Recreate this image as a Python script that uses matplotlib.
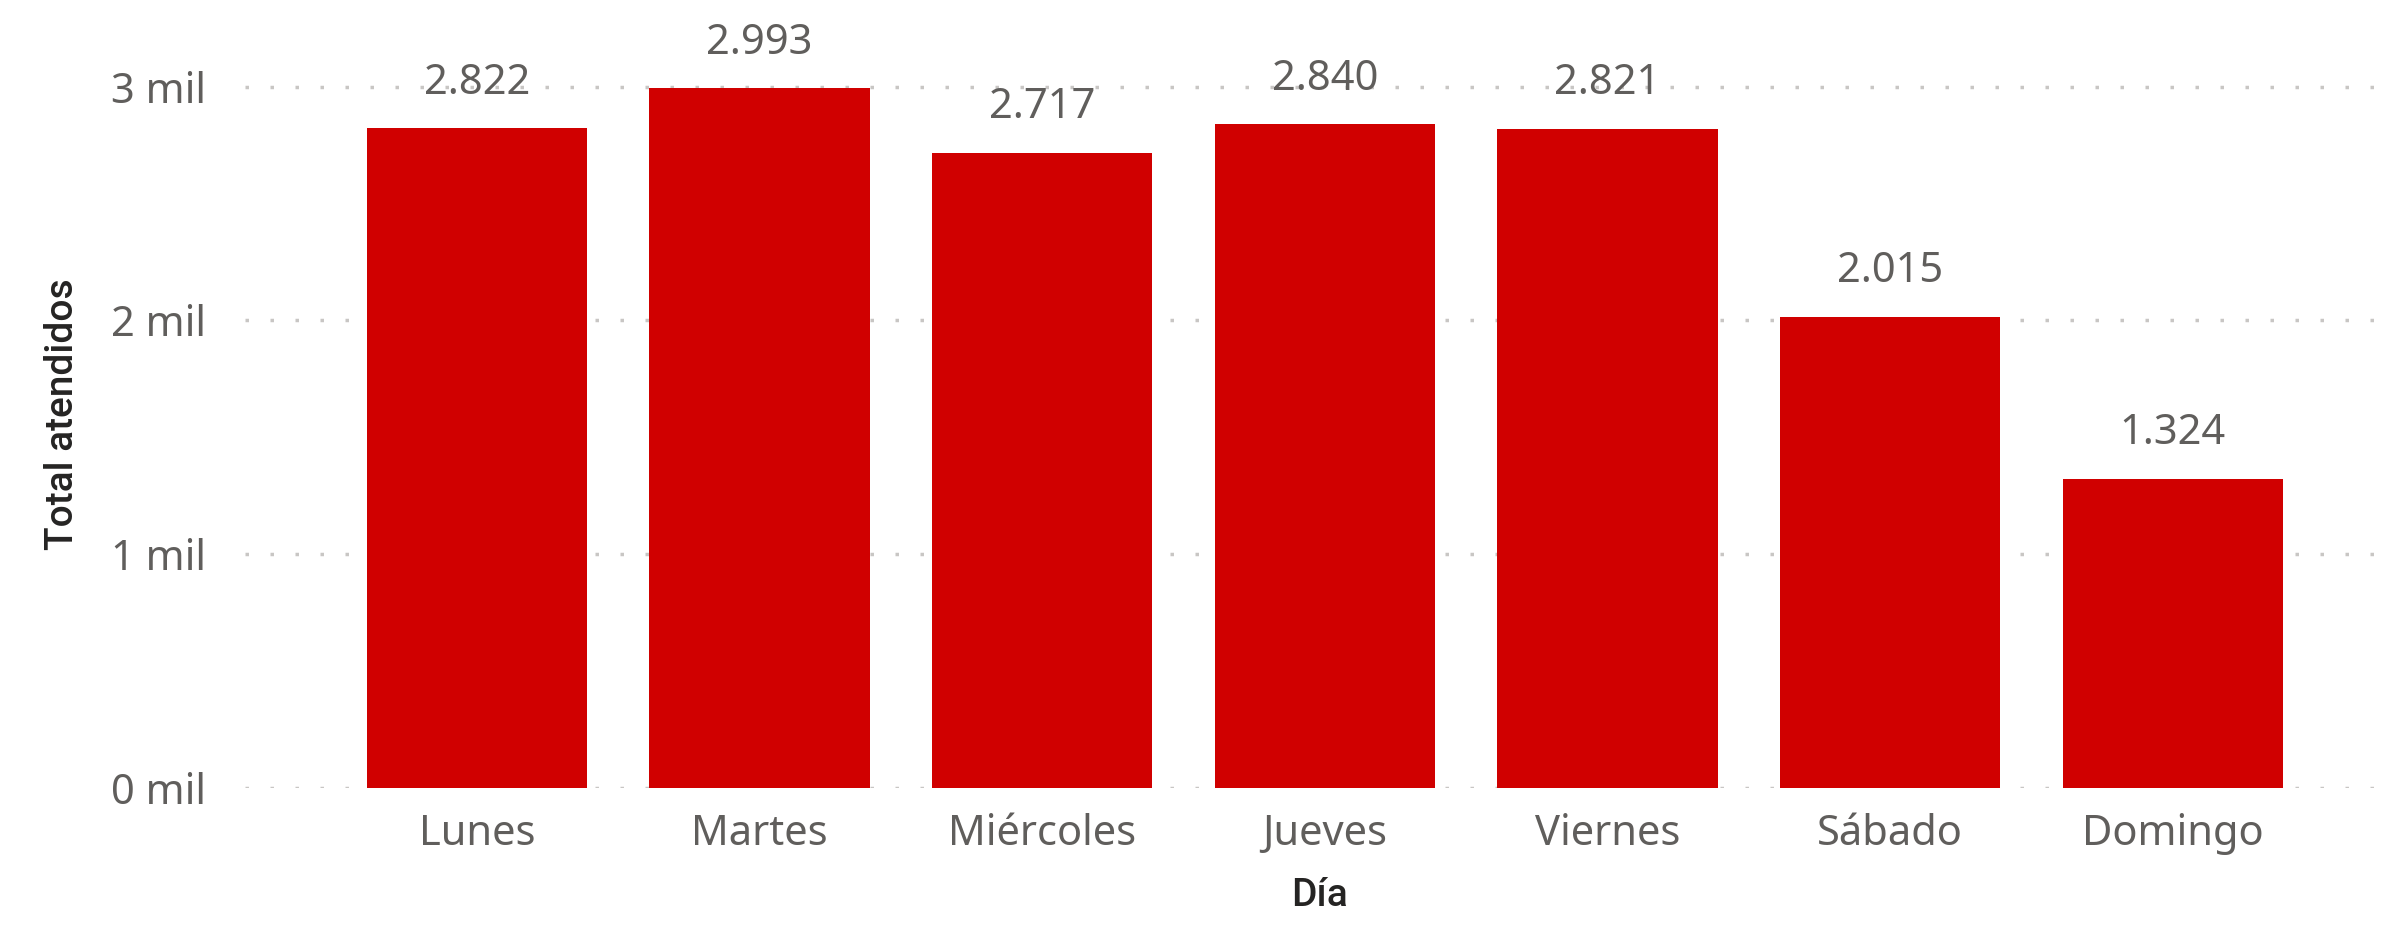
import matplotlib
matplotlib.use("Agg")
import matplotlib.pyplot as plt

# Data
dias = ["Lunes", "Martes", "Miércoles", "Jueves", "Viernes", "Sábado", "Domingo"]
atendidos = [2822, 2993, 2717, 2840, 2821, 2015, 1324]
y_ticks = [0, 1000, 2000, 3000]
y_tick_labels = ["0 mil", "1 mil", "2 mil", "3 mil"]

plt.rcParams['font.family'] = ['Noto Sans', 'DejaVu Sans']

fig = plt.figure(figsize=(23.98, 9.25), dpi=100)
ax = fig.add_axes([0.1022, 0.1481, 0.8958, 0.8087])

x = range(len(dias))
ax.bar(x, atendidos, width=0.78, color="#D00000", zorder=2)

for xi, v in zip(x, atendidos):
    ax.text(xi, v + 105, f"{v:,}".replace(",", "."), ha="center", va="bottom",
            fontsize=30, color="#605E5C")

ax.set_xlim(-0.82, 6.78)
ax.set_ylim(0, 3200)
ax.set_yticks(y_ticks)
ax.set_yticklabels(y_tick_labels)
ax.set_xticks(list(x))
ax.set_xticklabels(dias)
ax.tick_params(axis="both", length=0, labelsize=30, colors="#605E5C")
ax.tick_params(axis="y", pad=28)
ax.tick_params(axis="x", pad=18)

ax.yaxis.grid(True, color="#C8C6C4", linestyle=(0, (1, 6.2)), linewidth=2.5, zorder=0)
ax.set_axisbelow(True)
for s in ax.spines.values():
    s.set_visible(False)

title_font = dict(family=["Roboto", "DejaVu Sans"], fontsize=28, color="#252423", fontweight="medium")
ax.set_ylabel("Total atendidos", labelpad=22, **title_font)
ax.set_xlabel("Día", labelpad=16, **title_font)

plt.savefig("out.png", dpi=100)
